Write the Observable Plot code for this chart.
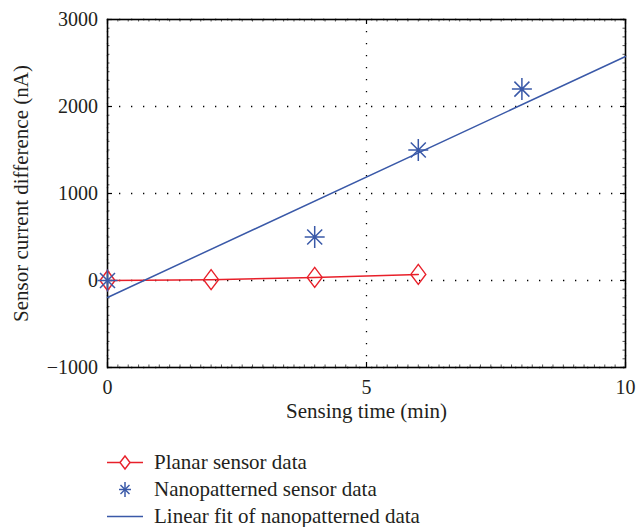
<!DOCTYPE html>
<html><head><meta charset="utf-8">
<script src="https://cdn.jsdelivr.net/npm/d3@7"></script>
<script src="https://cdn.jsdelivr.net/npm/@observablehq/plot@0.6"></script>
<style>
html,body{margin:0;padding:0;background:#fff;}
body{position:relative;width:636px;height:527px;font-family:"Liberation Serif","DejaVu Serif",serif;color:#231f20;}
#chart svg{display:block;}
#legend{position:absolute;left:107px;top:449px;}
.row{display:flex;align-items:center;height:27px;font-size:21px;white-space:nowrap;}
.row svg{width:36px;height:27px;margin-right:11px;flex:none;}
</style></head><body>
<div id="chart"></div>
<div id="legend"></div>
<script>
// ---- data ----
const planarTime = [0, 2, 4, 6];
const planarCurrent = [0, 10, 35, 70];
const nanoTime = [0, 4, 6, 8];
const nanoCurrent = [0, 500, 1500, 2200];
const fitTime = [0, 10];
const fitCurrent = [-195, 2575];
const xTicks = [0, 5, 10];
const yTicks = [-1000, 0, 1000, 2000, 3000];
const seriesNames = ["Planar sensor data", "Nanopatterned sensor data", "Linear fit of nanopatterned data"];
const xLabel = "Sensing time (min)";
const yLabel = "Sensor current difference (nA)";

const RED = "#e8202a", BLUE = "#3a59a8";
const W = 636, H = 440, mL = 107, mR = 11, mT = 19, mB = 73;
const iw = W - mL - mR, ih = H - mT - mB;

const planar = planarTime.map((t, i) => ({t, v: planarCurrent[i]}));
const nano = nanoTime.map((t, i) => ({t, v: nanoCurrent[i]}));
const fit = fitTime.map((t, i) => ({t, v: fitCurrent[i]}));
const xMinor = d3.ticks(0, 10, 40);
const yMinor = d3.ticks(-1000, 3000, 32);

const diamondTall = {draw(ctx) { const w = 7.5, h = 10; ctx.moveTo(0, -h); ctx.lineTo(w, 0); ctx.lineTo(0, h); ctx.lineTo(-w, 0); ctx.closePath(); }};
const star8 = {draw(ctx) { const a = 10, d = 7.5;
  ctx.moveTo(-a, 0); ctx.lineTo(a, 0); ctx.moveTo(0, -a - 1); ctx.lineTo(0, a + 1);
  ctx.moveTo(-d, -d); ctx.lineTo(d, d); ctx.moveTo(-d, d); ctx.lineTo(d, -d); }};

const dotted = {stroke: "#000", strokeOpacity: 1, strokeWidth: 1.3, strokeDasharray: "1.3 10.7"};
const minorStyle = {stroke: "#555", strokeWidth: 1};
const majorStyle = {stroke: "#000", strokeWidth: 1.2};

const chart = Plot.plot({
  width: W, height: H,
  marginLeft: mL, marginRight: mR, marginTop: mT, marginBottom: mB,
  style: {fontFamily: '"Liberation Serif","DejaVu Serif",serif', color: "#231f20", background: "#fff"},
  x: {domain: [0, 10]},
  y: {domain: [-1000, 3000]},
  marks: [
    Plot.gridX(xTicks, dotted),
    Plot.gridY(yTicks, dotted),
    Plot.ruleX(xMinor, {...minorStyle, insetTop: ih - 2.5}),
    Plot.ruleX(xMinor, {...minorStyle, insetBottom: ih - 2.5}),
    Plot.ruleY(yMinor, {...minorStyle, insetLeft: iw - 2.5}),
    Plot.ruleY(yMinor, {...minorStyle, insetRight: iw - 2.5}),
    Plot.ruleX(xTicks, {...majorStyle, insetTop: ih - 5}),
    Plot.ruleX(xTicks, {...majorStyle, insetBottom: ih - 5}),
    Plot.ruleY(yTicks, {...majorStyle, insetLeft: iw - 5}),
    Plot.ruleY(yTicks, {...majorStyle, insetRight: iw - 5}),
    Plot.frame({stroke: "#000", strokeWidth: 1.6}),
    Plot.axisX(xTicks, {tickSize: 0, tickPadding: 12, fontSize: 20, label: null, tickFormat: d3.format("d")}),
    Plot.axisY(yTicks, {tickSize: 0, tickPadding: 9.5, fontSize: 20, label: null, tickFormat: d3.format("d")}),
    Plot.line(planar, {x: "t", y: "v", stroke: RED, strokeWidth: 1.5}),
    Plot.dot(planar, {x: "t", y: "v", symbol: diamondTall, stroke: RED, strokeWidth: 1.4, fill: "none"}),
    Plot.dot(nano, {x: "t", y: "v", symbol: star8, stroke: BLUE, strokeWidth: 1.5, fill: "none"}),
    Plot.line(fit, {x: "t", y: "v", stroke: BLUE, strokeWidth: 1.5}),
    Plot.text([xLabel], {frameAnchor: "bottom", dy: 50, fontSize: 21}),
    Plot.text([yLabel], {frameAnchor: "left", textAnchor: "middle", dx: -86.5, rotate: -90, fontSize: 21})
  ]
});
document.getElementById("chart").appendChild(chart);

// ---- legend ----
const legendSymbols = [
  `<line x1="0" x2="36" y1="13.5" y2="13.5" stroke="${RED}" stroke-width="1.5"/><path d="M18,7 L23,13.5 L18,20 L13,13.5 Z" fill="white" stroke="${RED}" stroke-width="1.4"/>`,
  `<g stroke="${BLUE}" stroke-width="1.5"><line x1="12" x2="24" y1="13.5" y2="13.5"/><line x1="18" x2="18" y1="6" y2="21"/><line x1="13.5" x2="22.5" y1="9" y2="18"/><line x1="13.5" x2="22.5" y1="18" y2="9"/></g>`,
  `<line x1="0" x2="36" y1="13.5" y2="13.5" stroke="${BLUE}" stroke-width="1.5"/>`
];
const legend = document.getElementById("legend");
seriesNames.forEach((name, i) => {
  const row = document.createElement("div");
  row.className = "row";
  row.innerHTML = `<svg viewBox="0 0 36 27">${legendSymbols[i]}</svg><span>${name}</span>`;
  legend.appendChild(row);
});
</script>
</body></html>
